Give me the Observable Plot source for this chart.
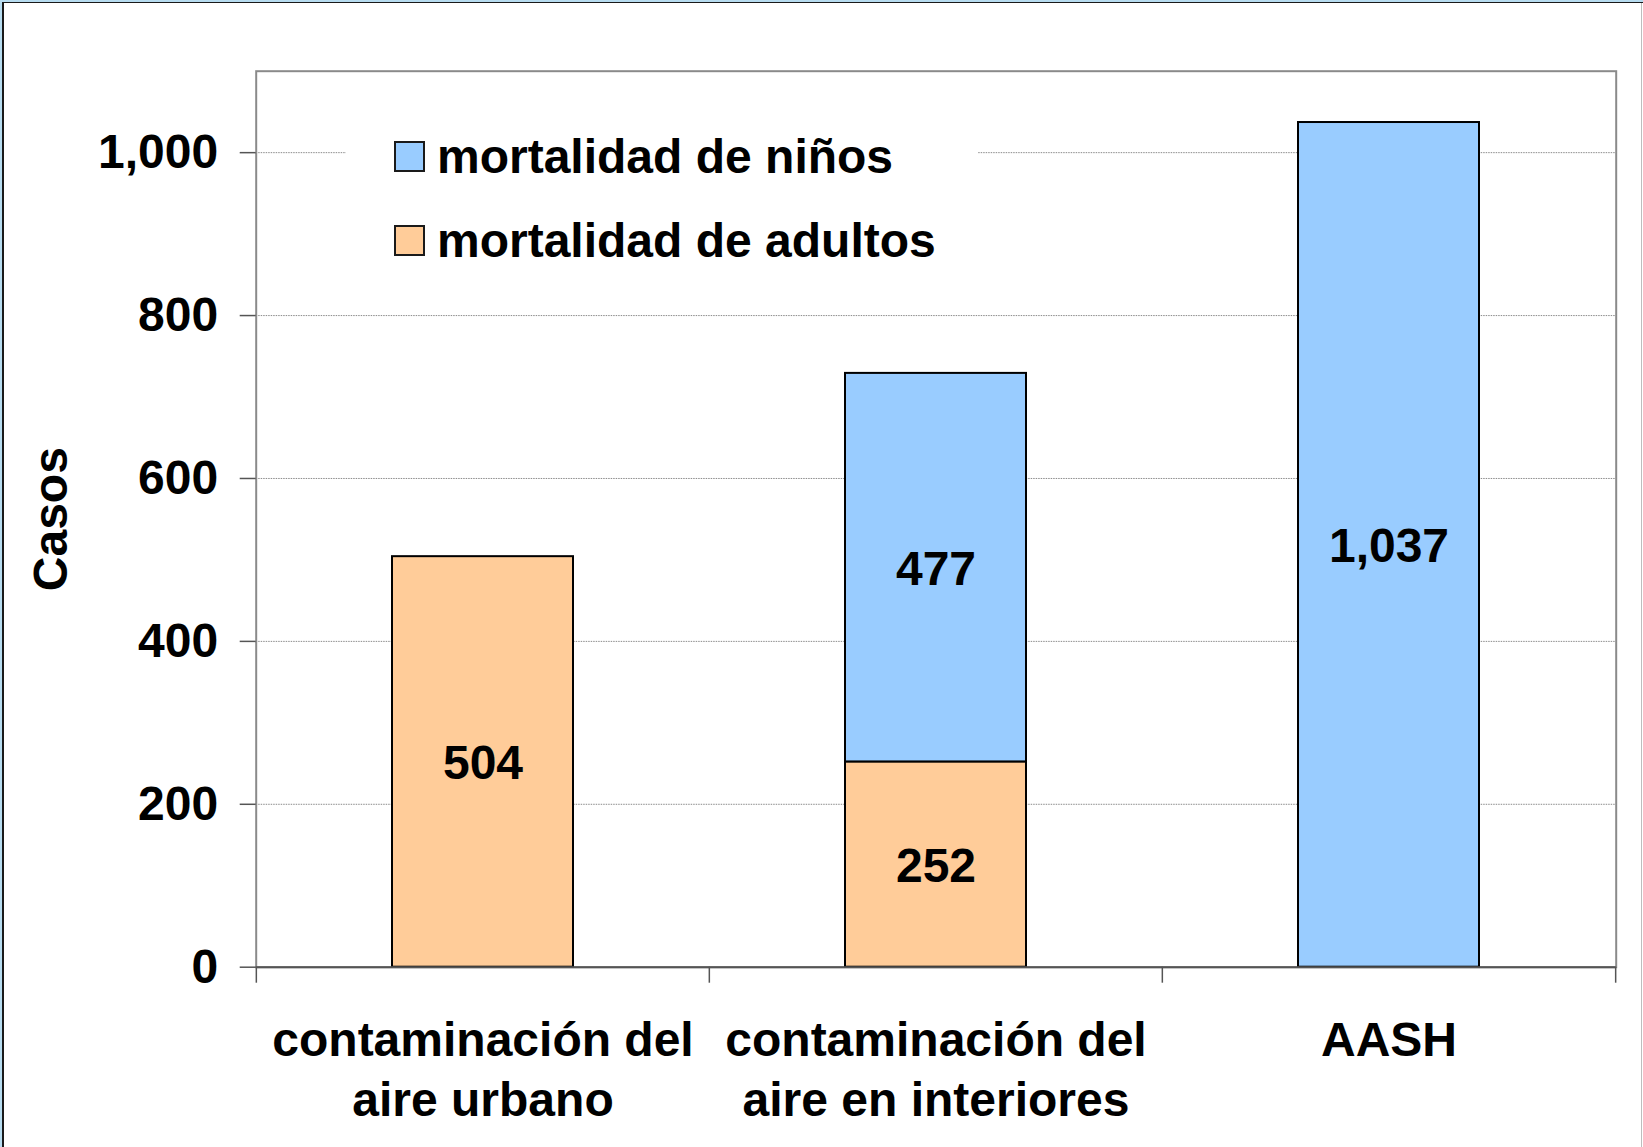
<!DOCTYPE html>
<html>
<head>
<meta charset="utf-8">
<script src="https://cdn.jsdelivr.net/npm/d3@7"></script>
<script src="https://cdn.jsdelivr.net/npm/@observablehq/plot@0.6"></script>
<style>
  html, body { margin: 0; padding: 0; background: #fff; }
  #page { position: relative; width: 1643px; height: 1147px; overflow: hidden; font-family: "Liberation Sans", Arial, sans-serif; background: #fff; }
  #chart { position: absolute; left: 0; top: 0; }
  .edge { position: absolute; }
  #legend { position: absolute; left: 346px; top: 108px; width: 632px; height: 176px; background: #fff; }
  .row { position: absolute; left: 48px; height: 60px; display: flex; align-items: center; font-weight: bold; font-size: 48px; color: #000; white-space: nowrap; }
  .sw { width: 27px; height: 27px; border: 2px solid #1a1a1a; margin-right: 12px; flex: none; }
</style>
</head>
<body>
<div id="page">
  <div id="chart"></div>
  <div id="legend"></div>
  <div class="edge" style="left:0;top:0;width:1643px;height:2px;background:#b7dcf0"></div>
  <div class="edge" style="left:0;top:0;width:2px;height:1147px;background:#b7dcf0"></div>
  <div class="edge" style="left:2px;top:2px;width:1641px;height:1px;background:#1a1a1a"></div>
  <div class="edge" style="left:2px;top:2px;width:2px;height:1145px;background:#1a1a1a"></div>
  <div class="edge" style="left:1641px;top:3px;width:1px;height:1144px;background:#bdbdbd"></div>
</div>
<script>
// ---- data ----
const categories = ["contaminación del\naire urbano", "contaminación del\naire en interiores", "AASH"];
const series = ["mortalidad de niños", "mortalidad de adultos"];
const colors = ["#99CCFF", "#FFCC99"];
const ninos = [0, 477, 1037];
const adultos = [504, 252, 0];
const yTicks = [0, 200, 400, 600, 800, 1000];
const yLabel = "Casos";

// ---- table (adults stacked first, at the bottom) ----
const rows = [];
categories.forEach((c, i) => { if (adultos[i] > 0) rows.push({cat: c, serie: series[1], value: adultos[i]}); });
categories.forEach((c, i) => { if (ninos[i] > 0) rows.push({cat: c, serie: series[0], value: ninos[i]}); });

const fmt = d3.format(",");
const W = 1643, H = 1147, ML = 255.7, MR = 27.3, MT = 70.7, MB = 180.3;
const step = (W - ML - MR) / categories.length;
const FONT = 48;

const chart = Plot.plot({
  width: W, height: H,
  marginLeft: ML, marginRight: MR, marginTop: MT, marginBottom: MB,
  style: {fontFamily: "'Liberation Sans', Arial, sans-serif", fontSize: FONT + "px", fontWeight: "bold", color: "#000", background: "transparent", overflow: "visible"},
  x: {domain: categories, paddingInner: 0.6, paddingOuter: 0.3, axis: null},
  y: {domain: [0, 1100], axis: null},
  color: {domain: series, range: colors},
  marks: [
    Plot.gridY(yTicks.filter(v => v > 0), {stroke: "#8c8c8c", strokeOpacity: 1, strokeWidth: 1, strokeDasharray: "1.5,1"}),
    Plot.frame({stroke: "#8a8a8a", strokeWidth: 2}),
    Plot.barY(rows, Plot.stackY({x: "cat", y: "value", fill: "serie", stroke: "#000", strokeWidth: 2})),
    Plot.text(rows, Plot.stackY({x: "cat", y: "value", z: "serie", text: d => fmt(d.value), dy: 2, fontSize: FONT, fontWeight: "bold", fill: "#000"})),
    Plot.axisY({ticks: yTicks, tickFormat: fmt, tickSize: 16, tickPadding: 22, stroke: "#555", strokeWidth: 1.5, fill: "#000", fontSize: FONT, fontWeight: "bold", label: null}),
    Plot.ruleY([0], {stroke: "#555", strokeWidth: 2}),
    Plot.ruleX(categories, {x: d => d, y1: 0, y2: 0, insetBottom: -16, dx: -step / 2, stroke: "#555", strokeWidth: 1.5}),
    Plot.ruleX(categories.slice(-1), {x: d => d, y1: 0, y2: 0, insetBottom: -16, dx: step / 2, stroke: "#555", strokeWidth: 1.5}),
    Plot.text(categories, {x: d => d, frameAnchor: "bottom", lineAnchor: "top", dy: 46, lineHeight: 1.25, fontSize: FONT, fontWeight: "bold", fill: "#000"}),
    Plot.text([yLabel], {frameAnchor: "left", textAnchor: "middle", lineAnchor: "middle", rotate: -90, dx: -205, fontSize: FONT, fontWeight: "bold", fill: "#000"})
  ]
});
document.getElementById("chart").appendChild(chart);

// ---- legend (inside plot area, top-left) ----
const legend = document.getElementById("legend");
const rowTops = [18, 102];
series.forEach((s, i) => {
  const r = document.createElement("div");
  r.className = "row";
  r.style.top = rowTops[i] + "px";
  const sw = document.createElement("div");
  sw.className = "sw";
  sw.style.background = colors[i];
  const t = document.createElement("span");
  t.textContent = s;
  r.appendChild(sw);
  r.appendChild(t);
  legend.appendChild(r);
});
</script>
</body>
</html>
